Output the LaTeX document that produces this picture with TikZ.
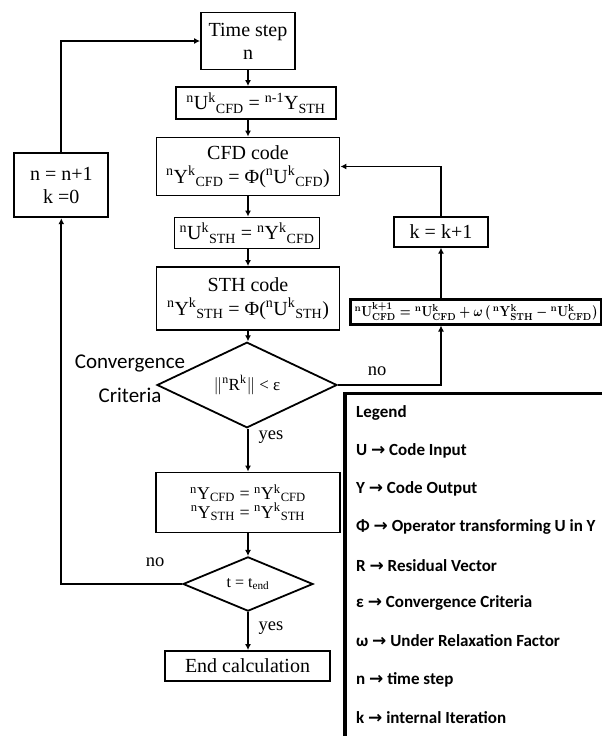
\documentclass[tikz,border=0pt]{standalone}
\usepackage{fontspec}
\usepackage{graphicx}
\setmainfont{Liberation Serif}
\newfontfamily\calib{Carlito}
\newfontfamily\dvs{DejaVu Sans}
\usetikzlibrary{shapes.geometric,arrows.meta}
\newcommand{\spx}[1]{\textsuperscript{#1}}
\newcommand{\sbx}[1]{\textsubscript{#1}}
\newcommand{\legarrow}{{\dvs\bfseries\fontsize{17}{17}\selectfont →}}
\begin{document}
\begin{tikzpicture}[x=1pt,y=-1pt,
  box/.style={draw, line width=1.8pt, rectangle, inner sep=0pt, align=center,
    font=\fontsize{20}{23}\selectfont},
  dia/.style={draw, line width=1.8pt, diamond, inner sep=0pt, align=center},
  arr/.style={line width=1.8pt, -{Latex[length=6pt,width=6pt]}},
  ln/.style={line width=1.8pt},
  lbl/.style={inner sep=0pt, font=\fontsize{18.5}{20}\selectfont},
  clbl/.style={inner sep=0pt, font=\calib\fontsize{21}{23}\selectfont},
  leg/.style={anchor=west, inner sep=0pt, font=\calib\bfseries\fontsize{17}{19}\selectfont}
]
\useasboundingbox (0,0) rectangle (602,736);
\fill[white] (0,0) rectangle (602,736);
\coordinate (axis) at (248,0);

% main column
\node[box, minimum width=94pt, minimum height=57pt] (ts) at (248,41) {Time step\\n};
\node[box, minimum width=160pt, minimum height=32pt] (b2) at (256,103)
  {\spx{n}U\spx{k}\sbx{CFD} = \spx{n-1}Y\sbx{STH}};
\node[box, minimum width=183pt, minimum height=58pt, font=\fontsize{20}{24}\selectfont] (b3) at (248,166.5)
  {CFD code\\\spx{n}Y\spx{k}\sbx{CFD} = Φ(\spx{n}U\spx{k}\sbx{CFD})};
\node[box, minimum width=145pt, minimum height=31pt] (b4) at (247,233)
  {\spx{n}U\spx{k}\sbx{STH} = \spx{n}Y\spx{k}\sbx{CFD}};
\node[box, minimum width=183pt, minimum height=63pt, font=\fontsize{20}{24}\selectfont] (b5) at (248,298.5)
  {STH code\\\spx{n}Y\spx{k}\sbx{STH} = Φ(\spx{n}U\spx{k}\sbx{STH})};
\node[dia, minimum width=180pt, minimum height=70pt, font=\fontsize{17}{18}\selectfont] (d1) at (247,385)
  {$\|$\spx{n}R\spx{k}$\|$ < ε};
\node[box, minimum width=184pt, minimum height=60pt, font=\fontsize{18}{17}\selectfont] (b6) at (248,502.5)
  {\spx{n}Y\sbx{CFD} = \spx{n}Y\spx{k}\sbx{CFD}\\\spx{n}Y\sbx{STH} = \spx{n}Y\spx{k}\sbx{STH}};
\node[dia, minimum width=130pt, minimum height=46pt, font=\fontsize{16}{18}\selectfont] (d2) at (248,584)
  {t = t\sbx{end}};
\node[box, minimum width=165pt, minimum height=30pt] (end) at (247.5,666) {End calculation};

% right loop
\node[box, minimum width=94pt, minimum height=29.5pt] (kb) at (441,232) {k = k+1};
\node[draw, line width=2.6pt, inner sep=0pt, minimum width=251pt, minimum height=25pt] (upd) at (476,311.7)
  {\raisebox{-2pt}{\resizebox{243pt}{14pt}{\boldmath$%
  {}^{\mathbf{n}}\mathbf{U}^{\mathbf{k+1}}_{\mathbf{CFD}} = {}^{\mathbf{n}}\mathbf{U}^{\mathbf{k}}_{\mathbf{CFD}} + \omega\,(\,{}^{\mathbf{n}}\mathbf{Y}^{\mathbf{k}}_{\mathbf{STH}} - {}^{\mathbf{n}}\mathbf{U}^{\mathbf{k}}_{\mathbf{CFD}})$}}};

% left loop
\node[box, minimum width=94pt, minimum height=64pt, font=\fontsize{20}{22.7}\selectfont] (nb) at (61.3,185.3) {n = n+1\\k =0};

% labels
\node[clbl] (conv) at (130,363) {Convergence};
\node[clbl] (crit) at (130,395) {Criteria};
\node[lbl] (yes1) at (271,437) {yes};
\node[lbl] (yes2) at (271,628) {yes};
\node[lbl] (no1) at (377,371) {no};
\node[lbl] (no2) at (155,562) {no};

% connectors
\draw[arr] (axis |- ts.south) -- (axis |- b2.north);
\draw[arr] (axis |- b2.south) -- (axis |- b3.north);
\draw[arr] (axis |- b3.south) -- (axis |- b4.north);
\draw[arr] (axis |- b4.south) -- (axis |- b5.north);
\draw[arr] (axis |- b5.south) -- (axis |- d1.north);
\draw[arr] (axis |- d1.south) -- (axis |- b6.north);
\draw[arr] (axis |- b6.south) -- (axis |- d2.north);
\draw[arr] (axis |- d2.south) -- (axis |- end.north);

\draw[arr] (d1.east) -| (kb.south |- upd.south);
\draw[arr] (kb.south |- upd.north) -- (kb.south);
\draw[arr] (kb.north) |- (b3.east);

\draw[arr] (d2.west) -| (nb.south);
\draw[arr] (nb.north) |- (ts.west);

% legend
\draw[line width=3.5pt] (345,736) -- (345,393.3) -- (602,393.3);
\node[leg] (lg0) at (356,413) {Legend};
\node[leg] (lg1) at (356,451) {U \legarrow{} Code Input};
\node[leg] (lg2) at (356,489) {Y \legarrow{} Code Output};
\node[leg] (lg3) at (356,527) {Φ \legarrow{} Operator transforming U in Y};
\node[leg] (lg4) at (356,565.5) {R \legarrow{} Residual Vector};
\node[leg] (lg5) at (356,603) {ε \legarrow{} Convergence Criteria};
\node[leg] (lg6) at (356,641) {ω \legarrow{} Under Relaxation Factor};
\node[leg] (lg7) at (356,680) {n \legarrow{} time step};
\node[leg] (lg8) at (356,718) {k \legarrow{} internal Iteration};
\end{tikzpicture}
\end{document}
